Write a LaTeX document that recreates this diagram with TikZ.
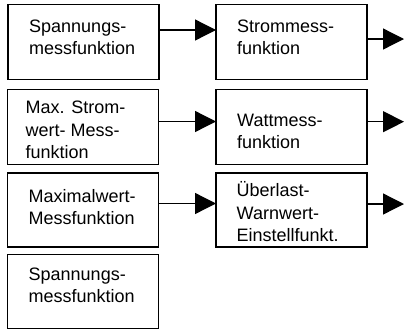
\documentclass[tikz,border=0pt]{standalone}
\usepackage{fontspec}
\setmainfont{Liberation Sans}
\usetikzlibrary{arrows.meta}
\begin{document}
\begin{tikzpicture}[x=1pt,y=-1pt,
  box/.style={draw,line width=1.6pt,inner sep=0pt,outer sep=0pt,minimum width=151pt,minimum height=75pt},
  lbl/.style={anchor=base west,inner sep=0pt,align=left,font=\fontsize{18}{22.5}\selectfont},
  conn/.style={line width=1.3pt,-{Triangle[length=21pt,width=21pt]}}]
\useasboundingbox (0,0) rectangle (404,330);
% boxes
\node[box] (a1) at (83.25,42) {};
\node[box] (b1) at (291.5,42) {};
\node[box] (a2) at (83,127) {};
\node[box] (b2) at (291.5,127) {};
\node[box,minimum height=74pt] (a3) at (83,210) {};
\node[box,minimum height=74pt] (b3) at (291.5,210) {};
\node[box,minimum height=74pt] (a4) at (83,291.5) {};
% labels (anchored at the baseline of the last line)
\node[lbl] (ta1) at (29,54.5) {Spannungs-\\messfunktion};
\node[lbl] (tb1) at (237,54.5) {Strommess-\\funktion};
\node[lbl] (ta2) at (25.5,158.5) {Max. Strom-\\wert- Mess-\\funktion};
\node[lbl] (tb2) at (237,148.5) {Wattmess-\\funktion};
\node[lbl] (ta3) at (28.5,224.5) {Maximalwert-\\Messfunktion};
\node[lbl] (tb3) at (236.5,241.5) {Überlast-\\Warnwert-\\Einstellfunkt.};
\node[lbl] (ta4) at (28.5,302.5) {Spannungs-\\messfunktion};
% free ends
\coordinate (r1) at (404,39);
\coordinate (r2) at (404,121.7);
\coordinate (r3) at (404,204);
% connectors
\draw[conn] ([yshift=12pt]a1.east) -- ([yshift=12pt]b1.west);
\draw[conn] (b1.east |- r1) -- (r1);
\draw[conn] ([yshift=5.5pt]a2.east) -- ([yshift=5.5pt]b2.west);
\draw[conn] (b2.east |- r2) -- (r2);
\draw[conn] ([yshift=6.5pt]a3.east) -- ([yshift=6.5pt]b3.west);
\draw[conn] (b3.east |- r3) -- (r3);
\end{tikzpicture}
\end{document}
